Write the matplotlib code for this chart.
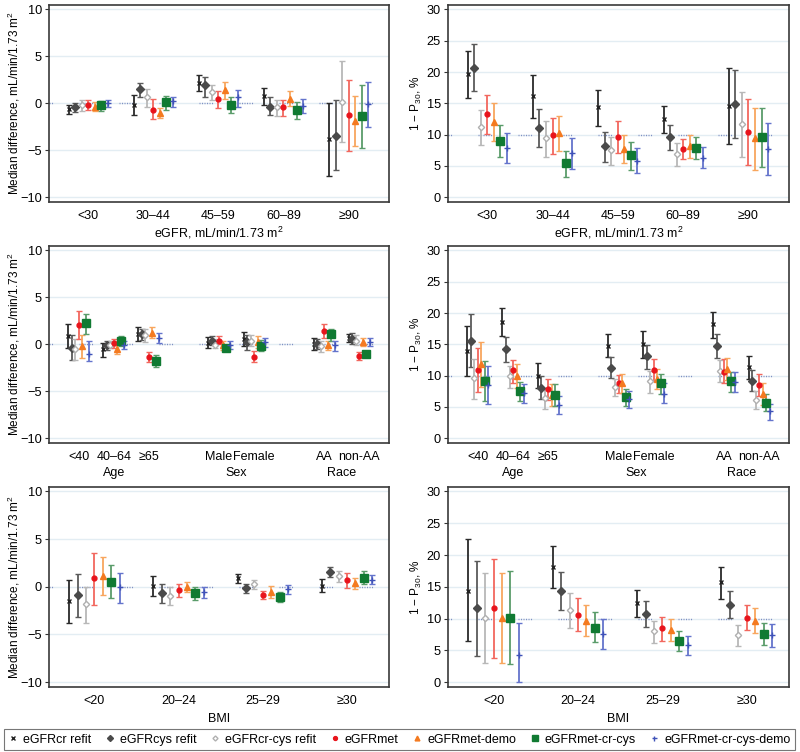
import matplotlib
matplotlib.use('Agg')
import matplotlib.pyplot as plt
from matplotlib.lines import Line2D
from matplotlib import transforms

plt.rcParams['font.family'] = ['Liberation Sans', 'DejaVu Sans']
plt.rcParams['mathtext.fontset'] = 'custom'
plt.rcParams['mathtext.rm'] = 'Liberation Sans'
plt.rcParams['mathtext.default'] = 'regular'
plt.rcParams['lines.scale_dashes'] = False

series = ['eGFRcr refit', 'eGFRcys refit', 'eGFRcr-cys refit', 'eGFRmet',
          'eGFRmet-demo', 'eGFRmet-cr-cys', 'eGFRmet-cr-cys-demo']

egfr_groups = ['<30', '30–44', '45–59', '60–89', '≥90']
demo_groups = ['<40', '40–64', '≥65', 'Male', 'Female', 'AA', 'non-AA']
demo_pos = [1, 2, 3, 5, 6, 8, 9]
demo_titles = ['Age', 'Sex', 'Race']
demo_title_pos = [2, 5.5, 8.5]
bmi_groups = ['<20', '20–24', '25–29', '≥30']

# median difference by eGFR (rows = series, cols = groups)
md_egfr = [[-0.6, -0.2, 2.2, 0.8, -3.85],
           [-0.45, 1.5, 1.9, -0.35, -3.45],
           [-0.15, 0.65, 1.15, -0.4, 0.15],
           [-0.2, -0.7, 0.45, -0.45, -1.3],
           [-0.35, -1.05, 1.4, 0.5, -1.85],
           [-0.2, 0.15, -0.15, -0.75, -1.4],
           [0.05, 0.2, 0.65, -0.3, -0.1]]
md_egfr_lo = [[-1.1, -1.3, 1.3, -0.15, -7.75],
              [-0.9, 0.65, 0.7, -1.3, -7.15],
              [-0.8, -0.35, 0.3, -1.4, -4.15],
              [-0.7, -1.65, -0.5, -1.4, -5.1],
              [-0.8, -1.6, 0.45, -0.3, -4.55],
              [-0.8, -0.7, -1.05, -1.65, -4.75],
              [-0.35, -0.35, -0.35, -1.05, -2.55]]
md_egfr_hi = [[-0.15, 0.9, 3.05, 1.6, 0.0],
              [0.0, 2.2, 2.75, 0.65, 0.3],
              [0.3, 1.5, 1.95, 0.4, 4.45],
              [0.3, 0.5, 1.35, 0.4, 2.45],
              [0.1, -0.5, 2.25, 1.3, 0.8],
              [0.2, 0.8, 0.65, 0.1, 1.95],
              [0.4, 0.7, 1.45, 0.5, 2.25]]

# 1 - P30 by eGFR
p30_egfr = [[19.7, 16.1, 14.35, 12.45, 14.6],
            [20.6, 11.1, 8.25, 9.55, 14.9],
            [11.3, 9.4, 7.55, 6.9, 11.65],
            [13.3, 9.9, 9.7, 7.75, 10.5],
            [12.0, 10.2, 7.75, 8.15, 9.4],
            [9.0, 5.4, 6.7, 7.9, 9.7],
            [7.9, 7.0, 5.8, 6.3, 7.75]]
p30_egfr_lo = [[15.9, 12.7, 11.4, 10.2, 8.45],
               [16.9, 8.1, 5.7, 7.55, 9.5],
               [8.35, 6.5, 5.2, 5.05, 6.45],
               [10.05, 6.9, 7.0, 6.05, 5.1],
               [9.0, 7.4, 5.4, 6.3, 4.35],
               [6.45, 3.2, 4.35, 6.05, 4.9],
               [5.5, 4.5, 3.8, 4.7, 3.55]]
p30_egfr_hi = [[23.4, 19.6, 17.1, 14.6, 20.7],
               [24.4, 14.05, 10.5, 11.5, 20.3],
               [13.9, 12.2, 9.7, 8.6, 16.75],
               [16.4, 12.7, 12.2, 9.35, 15.75],
               [15.05, 12.9, 10.0, 9.9, 14.3],
               [11.55, 7.45, 8.9, 9.7, 14.3],
               [10.3, 9.4, 7.8, 8.0, 11.9]]

# median difference by age / sex / race
md_demo = [[0.9, -0.55, 1.1, 0.15, 0.6, 0.05, 0.65],
           [-0.4, -0.1, 1.1, 0.4, 0.2, 0.05, 0.6],
           [-0.55, -0.05, 0.95, -0.05, 0.4, -0.15, 0.4],
           [2.05, 0.15, -1.35, 0.4, -1.35, 1.45, -1.25],
           [-0.2, -0.55, 1.2, -0.1, 0.25, -0.1, 0.25],
           [2.25, 0.3, -1.75, -0.4, -0.15, 1.05, -1.05],
           [-1.05, -0.05, 0.65, -0.05, 0.2, -0.1, 0.25]]
md_demo_lo = [[-0.45, -1.35, 0.4, -0.45, -0.2, -0.65, 0.2],
              [-1.7, -0.65, 0.5, -0.1, -0.6, -0.55, 0.05],
              [-1.7, -0.45, 0.25, -0.45, -0.15, -0.8, -0.05],
              [0.6, -0.35, -1.85, 0.0, -1.9, 0.7, -1.7],
              [-1.45, -1.0, 0.65, -0.65, -0.45, -0.65, -0.2],
              [1.1, -0.2, -2.4, -0.75, -0.7, 0.4, -1.4],
              [-1.8, -0.55, 0.15, -0.5, -0.25, -0.7, -0.2]]
md_demo_hi = [[2.2, 0.15, 1.8, 0.75, 1.35, 0.7, 1.1],
              [0.95, 0.4, 1.65, 0.85, 0.95, 0.6, 1.2],
              [0.6, 0.4, 1.6, 0.6, 0.95, 0.4, 0.95],
              [3.55, 0.6, -0.8, 0.85, -0.7, 2.15, -0.8],
              [0.95, -0.1, 1.8, 0.4, 0.9, 0.4, 0.7],
              [3.2, 0.85, -1.15, -0.05, 0.45, 1.65, -0.75],
              [0.4, 0.4, 1.2, 0.4, 0.65, 0.4, 0.7]]

# 1 - P30 by age / sex / race
p30_demo = [[13.9, 18.5, 10.0, 14.8, 15.1, 18.2, 11.45],
            [15.6, 14.2, 8.0, 11.3, 13.1, 14.75, 9.1],
            [9.6, 9.9, 6.45, 8.15, 9.1, 10.8, 6.15],
            [10.9, 10.85, 7.8, 8.75, 10.85, 10.65, 8.5],
            [11.9, 10.0, 6.95, 8.8, 9.5, 11.05, 7.1],
            [9.15, 7.5, 6.9, 6.55, 8.75, 9.2, 5.7],
            [8.55, 7.2, 5.25, 6.3, 7.05, 9.0, 4.35]]
p30_demo_lo = [[9.95, 16.4, 8.1, 12.9, 12.75, 16.05, 9.45],
               [11.4, 12.2, 6.3, 9.6, 11.05, 12.8, 7.5],
               [6.25, 8.1, 4.65, 6.7, 7.3, 9.0, 4.65],
               [7.35, 8.9, 6.1, 7.2, 9.15, 8.85, 6.7],
               [8.2, 8.1, 5.15, 7.3, 7.8, 9.25, 5.25],
               [5.9, 6.0, 5.15, 5.2, 7.05, 7.35, 4.35],
               [5.4, 5.65, 3.85, 4.9, 5.6, 7.35, 3.0]]
p30_demo_hi = [[17.9, 20.85, 12.0, 16.7, 17.2, 20.2, 13.2],
               [19.8, 16.1, 9.9, 12.9, 14.9, 16.7, 10.85],
               [12.7, 11.55, 8.05, 9.5, 10.75, 12.45, 7.55],
               [14.4, 12.5, 9.4, 10.15, 12.7, 12.6, 10.25],
               [15.45, 11.8, 8.6, 10.2, 11.0, 12.8, 8.85],
               [12.3, 8.95, 8.6, 7.8, 10.3, 10.65, 7.05],
               [11.6, 8.7, 6.8, 7.6, 8.75, 10.6, 5.5]]

# median difference by BMI
md_bmi = [[-1.5, 0.05, 0.9, 0.1],
          [-0.9, -0.65, -0.15, 1.55],
          [-1.85, -0.95, 0.25, 1.1],
          [0.9, -0.35, -0.85, 0.75],
          [1.1, 0.0, -0.5, 0.35],
          [0.55, -0.7, -1.05, 0.95],
          [-0.05, -0.6, -0.25, 0.75]]
md_bmi_lo = [[-3.75, -1.0, 0.35, -0.6],
             [-3.15, -1.65, -0.65, 1.0],
             [-3.75, -1.95, -0.25, 0.45],
             [-1.95, -1.1, -1.3, -0.1],
             [-0.9, -0.6, -1.15, -0.25],
             [-1.2, -1.4, -1.55, 0.3],
             [-1.7, -1.2, -0.8, 0.3]]
md_bmi_hi = [[0.75, 1.1, 1.35, 0.8],
             [1.35, 0.3, 0.3, 2.05],
             [0.0, 0.0, 0.75, 1.7],
             [3.55, 0.3, -0.4, 1.4],
             [3.1, 0.55, 0.1, 0.9],
             [2.3, 0.0, -0.6, 1.6],
             [1.4, 0.0, 0.2, 1.2]]

# 1 - P30 by BMI
p30_bmi = [[14.4, 18.1, 12.45, 15.7],
           [11.6, 14.4, 10.8, 12.2],
           [10.15, 11.3, 8.0, 7.45],
           [11.65, 10.6, 8.45, 10.15],
           [10.15, 9.7, 8.25, 9.7],
           [10.15, 8.55, 6.55, 7.55],
           [4.3, 7.55, 5.85, 7.4]]
p30_bmi_lo = [[6.45, 14.8, 10.3, 13.05],
              [4.05, 11.3, 8.75, 10.05],
              [3.1, 8.55, 6.15, 5.65],
              [3.75, 8.0, 6.55, 8.2],
              [3.0, 7.2, 6.55, 7.7],
              [2.8, 6.25, 4.95, 5.8],
              [0.0, 5.2, 4.3, 5.6]]
p30_bmi_hi = [[22.6, 21.4, 14.45, 18.15],
              [19.05, 17.3, 12.8, 14.4],
              [17.15, 14.05, 9.6, 9.0],
              [19.35, 13.2, 10.25, 12.15],
              [17.25, 12.1, 10.0, 11.75],
              [17.45, 11.1, 8.1, 9.3],
              [9.35, 9.9, 7.25, 9.1]]

# marker style for each series: marker, size, face, edge, bar colour
styles = [('x', 3.2, '#222222', '#222222', '#2a2a2a'),
          ('D', 3.8, '#4a4a4a', '#4a4a4a', '#5a5a5a'),
          ('D', 3.2, 'white', '#b0b0b0', '#b8b8b8'),
          ('o', 3.5, '#e8141c', '#e8141c', '#f2675e'),
          ('^', 4.3, '#f47a20', '#f47a20', '#f8a65e'),
          ('s', 5.2, '#107a32', '#107a32', '#5a9c6a'),
          ('+', 4.5, '#3f52b8', '#3f52b8', '#6474cc')]
offsets = [-0.3, -0.2, -0.1, 0.0, 0.1, 0.2, 0.3]

ylab_md = 'Median difference, mL/min/1.73 m$^2$'
ylab_p30 = '1 − P$_{30}$, %'

fig = plt.figure(figsize=(8, 7.52), dpi=100)

col_x = [49 / 800, 448 / 800]
col_w = [340 / 800, 341 / 800]
row_y = [1 - 202 / 752, 1 - 443 / 752, 1 - 687 / 752]
row_h = [197 / 752, 197 / 752, 200 / 752]

# the ref line: short dotted pieces repeating every ~40 px (even-length pattern)
ref_dash = (7.2, tuple([0.75, 1.05] * 5 + [0.75, 19.05]))


def panel(ax, pos, est, lo, hi, labels, xlim, kind):
    if kind == 'md':
        ax.set_ylim(-10.5, 10.45)
        ax.set_yticks([-10, -5, 0, 5, 10])
        ref = 0
        ax.set_ylabel(ylab_md, fontsize=8.5)
        ax.yaxis.set_label_coords(-0.08, 0.5)
    else:
        ax.set_ylim(-0.75, 30.7)
        ax.set_yticks([0, 5, 10, 15, 20, 25, 30])
        ref = 10
        ax.set_ylabel(ylab_p30, fontsize=8.5)
        ax.yaxis.set_label_coords(-0.07, 0.5)
    ax.set_xlim(*xlim)
    ax.grid(axis='y', color='#e3edf3', lw=1.0)
    ax.set_axisbelow(True)
    ax.axhline(ref, color='#8090c4', lw=1.0, linestyle=ref_dash, zorder=1)
    for i, (mk, ms, fc, ec, bc) in enumerate(styles):
        xs = [p + offsets[i] for p in pos]
        yerr = [[e - l for e, l in zip(est[i], lo[i])],
                [h - e for e, h in zip(est[i], hi[i])]]
        ax.errorbar(xs, est[i], yerr=yerr, fmt='none', ecolor=bc,
                    elinewidth=1.3, capsize=2.2, capthick=1.0, zorder=3)
        ax.plot(xs, est[i], linestyle='none', marker=mk, ms=ms,
                mfc=fc, mec=ec, mew=1.0, zorder=4)
    ax.set_xticks(pos)
    ax.set_xticklabels(labels, fontsize=9)
    ax.tick_params(axis='x', length=0, pad=6)
    ax.tick_params(axis='y', length=3, width=0.8, labelsize=9.2, pad=2,
                   color='#333333')
    for s in ax.spines.values():
        s.set_color('#3a3a3a')
        s.set_linewidth(1.2)


axes = [[fig.add_axes([col_x[c], row_y[r], col_w[c], row_h[r]])
         for c in range(2)] for r in range(3)]

panel(axes[0][0], [1, 2, 3, 4, 5], md_egfr, md_egfr_lo, md_egfr_hi,
      egfr_groups, (0.4, 5.62), 'md')
panel(axes[0][1], [1, 2, 3, 4, 5], p30_egfr, p30_egfr_lo, p30_egfr_hi,
      egfr_groups, (0.4, 5.62), 'p30')
panel(axes[1][0], demo_pos, md_demo, md_demo_lo, md_demo_hi,
      demo_groups, (0.15, 9.85), 'md')
panel(axes[1][1], demo_pos, p30_demo, p30_demo_lo, p30_demo_hi,
      demo_groups, (0.15, 9.85), 'p30')
panel(axes[2][0], [1, 2, 3, 4], md_bmi, md_bmi_lo, md_bmi_hi,
      bmi_groups, (0.46, 4.5), 'md')
panel(axes[2][1], [1, 2, 3, 4], p30_bmi, p30_bmi_lo, p30_bmi_hi,
      bmi_groups, (0.46, 4.5), 'p30')

for ax in axes[0]:
    ax.set_xlabel('eGFR, mL/min/1.73 m$^2$', fontsize=9, labelpad=2)
for ax in axes[2]:
    ax.set_xlabel('BMI', fontsize=9, labelpad=4)
for ax in axes[1]:
    trans = transforms.blended_transform_factory(ax.transData, ax.transAxes)
    for t, x in zip(demo_titles, demo_title_pos):
        ax.text(x, -0.152, t, transform=trans, ha='center', va='center',
                fontsize=9)

handles = [Line2D([], [], linestyle='none', marker=mk, ms=ms * 0.8, mfc=fc,
                  mec=ec, mew=1.0) for mk, ms, fc, ec, bc in styles]
leg = fig.legend(handles, series, loc='lower left', ncol=7, mode='expand',
                 bbox_to_anchor=(4 / 800, 2 / 752, 791 / 800, 24 / 752),
                 fontsize=9, handlelength=0.8, handletextpad=0.4,
                 borderaxespad=0, fancybox=False, frameon=True,
                 borderpad=0.35, columnspacing=0.8)
leg.get_frame().set_edgecolor('#555555')
leg.get_frame().set_linewidth(0.8)

fig.savefig('out.png', dpi=100)
